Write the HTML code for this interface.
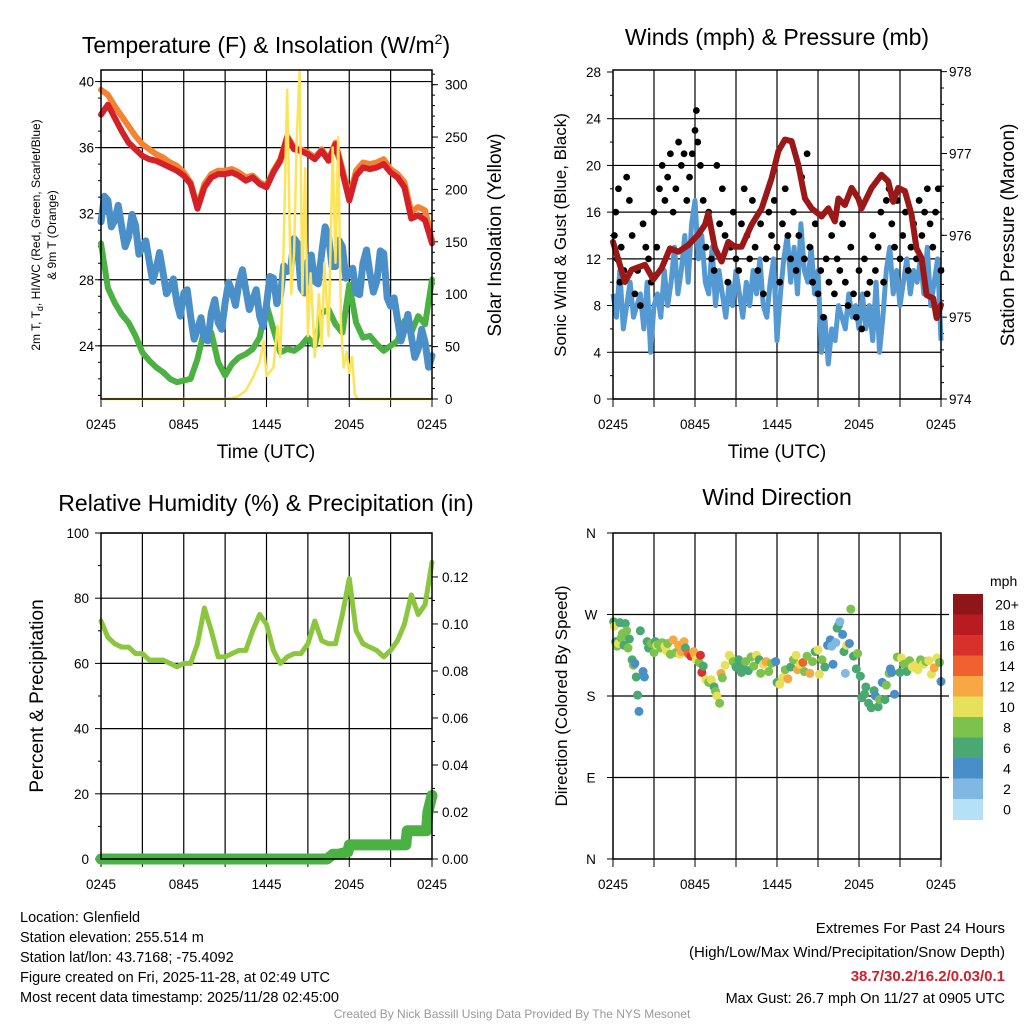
<!DOCTYPE html>
<html><head><meta charset="utf-8">
<style>
html,body{margin:0;padding:0;background:#fff;}
svg{display:block;font-family:"Liberation Sans",sans-serif;}
</style></head>
<body>
<svg id="chart" width="1024" height="1024" viewBox="0 0 1024 1024" xmlns="http://www.w3.org/2000/svg">
<rect width="1024" height="1024" fill="#fff"/>
<g id="g1"></g>
<g id="g2"></g>
<g id="g3"></g>
<g id="g4"></g>

<text x="266" y="53" font-size="23" text-anchor="middle">Temperature (F) &amp; Insolation (W/m<tspan font-size="14" dy="-9">2</tspan><tspan dy="9">)</tspan></text>
<text x="777" y="45" font-size="23" text-anchor="middle">Winds (mph) &amp; Pressure (mb)</text>
<text x="266" y="511" font-size="23" text-anchor="middle">Relative Humidity (%) &amp; Precipitation (in)</text>
<text x="777" y="505" font-size="23" text-anchor="middle">Wind Direction</text>

<text x="266" y="458" font-size="19" text-anchor="middle">Time (UTC)</text>
<text x="777" y="458" font-size="19" text-anchor="middle">Time (UTC)</text>

<g font-size="12" text-anchor="middle">
<text transform="translate(40,235) rotate(-90)">2m T, T<tspan font-size="9" dy="3">d</tspan><tspan dy="-3">, HI/WC (Red, Green, Scarlet/Blue)</tspan></text>
<text transform="translate(56,235) rotate(-90)">&amp; 9m T (Orange)</text>
</g>
<text transform="translate(501,235) rotate(-90)" font-size="19" text-anchor="middle">Solar Insolation (Yellow)</text>
<text transform="translate(566,235) rotate(-90)" font-size="17" text-anchor="middle">Sonic Wind &amp; Gust (Blue, Black)</text>
<text transform="translate(1014,235) rotate(-90)" font-size="19" text-anchor="middle">Station Pressure (Maroon)</text>
<text transform="translate(43,696) rotate(-90)" font-size="19" text-anchor="middle">Percent &amp; Precipitation</text>
<text transform="translate(567,696) rotate(-90)" font-size="17" text-anchor="middle">Direction (Colored By Speed)</text>

<g font-size="14.5">
<text x="20" y="922">Location: Glenfield</text>
<text x="20" y="942">Station elevation: 255.514 m</text>
<text x="20" y="962">Station lat/lon: 43.7168; -75.4092</text>
<text x="20" y="982">Figure created on Fri, 2025-11-28, at 02:49 UTC</text>
<text x="20" y="1002">Most recent data timestamp: 2025/11/28 02:45:00</text>
</g>
<g font-size="15" text-anchor="end">
<text x="1005" y="933">Extremes For Past 24 Hours</text>
<text x="1005" y="957">(High/Low/Max Wind/Precipitation/Snow Depth)</text>
<text x="1005" y="981" fill="#d0202a" font-weight="bold">38.7/30.2/16.2/0.03/0.1</text>
<text x="1005" y="1003" font-size="14.5">Max Gust: 26.7 mph On 11/27 at 0905 UTC</text>
</g>
<text x="512" y="1018" font-size="12" fill="#999" text-anchor="middle">Created By Nick Bassill Using Data Provided By The NYS Mesonet</text>
</svg>
<script>
// ---------- DATA ----------
const xTickLabels = ["0245","0845","1445","2045","0245"];
// Panel 1
const tempTicks = [24,28,32,36,40];
const solarTicks = [0,50,100,150,200,250,300];
const redT = [38.0,38.6,37.8,37.0,36.3,35.9,35.5,35.3,35.2,35.0,34.8,34.6,34.3,33.8,32.3,33.6,34.2,34.4,34.4,34.5,34.3,34.0,34.2,33.8,33.6,34.5,35.2,36.6,35.9,35.8,35.6,35.3,35.8,35.2,36.2,34.5,32.8,34.3,34.8,34.7,34.8,35.0,34.5,34.2,33.6,31.7,31.9,31.6,30.2];
const orangeT = [39.5,39.2,38.5,37.9,37.3,36.7,36.2,35.9,35.6,35.4,35.1,34.9,34.5,33.9,32.4,33.8,34.4,34.6,34.6,34.7,34.5,34.2,34.3,33.9,33.7,34.6,35.3,36.7,36.0,35.9,35.7,35.4,35.9,35.3,36.3,34.7,33.0,34.6,35.1,35.0,35.1,35.3,34.7,34.4,33.9,32.1,32.4,32.2,30.4];
const blueT = [31.5,32.8,31.6,31.2,30.6,31.3,30.0,29.1,28.7,28.4,27.5,26.6,27.2,25.8,25.0,24.4,26.0,25.4,26.6,27.3,27.8,27.4,26.8,25.8,26.5,28.1,27.0,28.5,30.5,27.5,29.1,27.9,29.6,30.6,28.8,30.0,28.4,27.2,29.0,28.4,27.9,29.6,26.4,25.6,25.0,24.6,23.8,24.2,23.4];
const blueWiggle = [0.9,-1.0,1.1,-0.9,1.0,-1.1,0.8,-1.0,1.1,-0.8,1.0,-1.1,0.9,-1.0,1.0,-0.9,1.1,-1.0,0.9,-1.1,1.0,-0.9,1.1,-1.0,0.9,-1.0,1.1,-0.9,1.2,-1.1,1.0,-1.0,1.1,-0.9,1.0,-1.1,0.9,-1.0,1.1,-0.9,1.0,-1.1,0.9,-1.0,1.1,-0.9,1.0,-1.1];
const greenT = [30.2,27.5,26.6,25.9,25.4,24.6,23.6,23.1,22.7,22.4,22.0,21.8,21.9,22.0,23.2,25.0,24.8,23.0,22.2,22.9,23.3,23.5,23.8,24.5,26.5,25.0,23.6,23.8,23.7,24.0,24.5,24.0,26.0,26.2,25.3,24.8,27.7,25.4,24.5,24.6,24.1,23.7,24.0,24.3,25.5,24.8,25.8,25.3,28.0];
const solarHours = [0,9.0,9.5,10,10.5,11,11.5,11.8,12,12.5,12.8,13,13.2,13.5,13.7,13.8,14,14.2,14.4,14.6,14.8,15,15.2,15.5,15.8,16,16.2,16.5,16.8,17,17.2,17.4,17.6,17.8,18,18.2,18.4,18.6,24];
const solarVals = [0,0,1,3,8,20,35,55,22,30,70,40,120,295,150,100,140,250,312,100,220,60,120,40,100,50,130,60,240,130,250,70,30,45,25,40,5,0,0];
// Panel 2
const windTicks = [0,4,8,12,16,20,24,28];
const presTicks = [974,975,976,977,978];
const windSpeed = [9,7,11,6,8,10,7,8,9, 6,10,4,8,9,7,11,8, 10,13,9,11,14,10,15,17, 12,14,10,9,13,8,11,9, 7,10,8,11,9,7,10,8, 11,9,12,8,7,10,12,5, 9,12,14,10,13,9,15,11, 10,13,9,11,4,7,3,6, 5,8,7,6,9,7,8,6, 9,6,8,5,10,4,7,11, 13,9,11,8,10,12,9,11, 10,12,9,13,8,10,12,5];
const gustHours = [0.1,0.2,0.3,0.4,0.5,0.6,0.8,1,1.2,1.4,1.6,1.8,2,2.2,2.4,2.6,2.8,3,3.2,3.4,3.6,3.8,4,4.2,4.4,4.6,4.8,5,5.2,5.4,5.6,5.8,6,6.1,6.2,6.4,6.6,6.8,7,7.2,7.4,7.6,7.8,8,8.2,8.4,8.6,8.8,9,9.2,9.4,9.6,9.8,10,10.2,10.4,10.6,10.8,11,11.2,11.4,11.6,11.8,12,12.2,12.4,12.6,12.8,13,13.2,13.4,13.6,13.8,14,14.2,14.4,14.6,14.8,15,15.2,15.4,15.6,15.8,16,16.2,16.4,16.6,16.8,17,17.2,17.4,17.6,17.8,18,18.2,18.4,18.6,18.8,19,19.2,19.4,19.6,19.8,20,20.2,20.4,20.6,20.8,21,21.2,21.4,21.6,21.8,22,22.2,22.4,22.6,22.8,23,23.2,23.4,23.6,23.8,24];
const gustVals = [14,16,12,18,10,13,11,19,17,14,9,11,8,15,13,12,10,16,13,18,20,17,19,21,16,18,22,20,21,17,19,21,23,24.7,22,20,17,13,16,12,11,20,15,18,14,10,13,16,12,11,15,18,14,12,17,13,11,15,9,12,16,14,17,13,10,15,18,14,12,16,11,14,19,12,21,13,10,15,9,11,7,12,10,14,9,12,11,15,10,8,13,9,7,11,6,12,9,10,14,11,13,16,10,17,18,15,13,17,12,14,16,11,13,15,12,17,14,16,18,15,13,16,18,11];
const presHours = [0,0.88,1.37,2.34,2.95,3.56,4.17,4.78,5.51,6.24,6.73,6.97,7.46,7.95,8.44,8.92,9.41,10.14,10.88,11.61,12.1,12.58,13.07,13.56,14.05,14.53,15.26,15.75,16.24,16.49,16.97,17.46,17.95,18.19,18.92,19.65,20.14,20.5,20.87,21.36,21.85,22.21,22.58,22.95,23.43,23.68,24];
const presVals = [975.92,975.43,975.58,975.64,975.46,975.60,975.84,975.80,975.88,976.01,976.13,976.27,975.84,975.68,975.92,975.86,975.86,976.13,976.33,976.70,977.03,977.17,977.15,976.86,976.45,976.33,976.23,976.33,976.17,976.45,976.37,976.58,976.45,976.33,976.58,976.74,976.66,976.41,976.58,976.54,976.25,975.84,975.72,975.27,975.23,974.99,975.15];
// Panel 3
const rhTicks = [0,20,40,60,80,100];
const precipTicks = [0,0.02,0.04,0.06,0.08,0.10,0.12];
const precipTickLabels = ["0.00","0.02","0.04","0.06","0.08","0.10","0.12"];
const rhVals = [73,68,66,65,65,63,63,61,61,61,60,59,60,60,66,77,70,62,62,63,64,64,70,75,72,64,60,62,63,63,66,73,67,66,66,75,86,70,66,65,64,62,64,67,72,81,75,78,91];
const precipHours = [0,16.4,16.8,17.2,17.9,18.0,22.1,22.2,23.6,23.7,24];
const precipVals = [0,0,0.002,0.002,0.003,0.006,0.006,0.012,0.012,0.020,0.027];
// Panel 4
const dirLabels = ["N","E","S","W","N"];
const dirTicks = [0,90,180,270,360];
const speedBins = ["0","2","4","6","8","10","12","14","16","18","20+"];
const binColors = ["#b5e1f6","#7fb9e3","#4a8ec8","#4aa872","#7dc24d","#e6e05a","#f7a743","#ef612f","#d8302a","#b81c22","#8e1518"];
const dirHours = [0.05,0.1,0.2,0.3,0.4,0.5,0.6,0.7,0.8,0.9,1.0,1.1,1.2,1.4,1.5,1.6,1.7,1.8,1.9,2.0,2.2,2.3,2.5,2.6,2.8,3.0,3.1,3.2,3.3,3.5,3.6,3.8,3.9,4.0,4.2,4.4,4.6,4.8,4.9,5.0,5.2,5.3,5.5,5.7,5.9,6.0,6.1,6.3,6.4,6.5,6.6,6.8,7.0,7.2,7.4,7.5,7.6,7.8,7.9,8.0,8.2,8.5,8.6,8.8,9.0,9.2,9.4,9.5,9.7,9.9,10.1,10.3,10.5,10.7,10.8,11.0,11.2,11.4,11.6,11.9,12.0,12.2,12.4,12.6,12.8,13.0,13.2,13.4,13.5,13.7,13.9,14.0,14.2,14.4,14.6,14.8,15.0,15.1,15.3,15.5,15.7,15.9,16.0,16.1,16.3,16.4,16.5,16.6,16.8,16.9,17.0,17.1,17.3,17.4,17.6,17.8,17.9,18.1,18.2,18.4,18.5,18.7,18.9,19.1,19.2,19.4,19.5,19.7,19.9,20.0,20.2,20.3,20.4,20.6,20.8,21.0,21.1,21.3,21.5,21.7,21.9,22.1,22.3,22.5,22.7,22.9,23.1,23.3,23.5,23.7,23.9,24.0];
const dirVals = [262,257,240,235,238,261,244,249,236,260,252,233,243,220,214,216,201,181,163,252,207,201,240,233,238,228,240,236,237,233,239,235,230,238,226,242,228,236,226,229,240,233,227,224,229,225,220,217,225,206,213,198,195,198,190,185,180,172,205,200,214,225,223,218,212,220,206,214,218,208,223,213,225,220,205,215,218,207,216,218,195,193,200,209,199,212,220,225,209,215,217,207,224,205,218,229,231,204,220,212,236,242,235,215,239,255,258,262,248,229,205,236,238,276,224,210,227,202,178,182,190,172,167,186,180,168,176,195,176,192,205,210,206,182,223,206,222,215,207,219,212,214,209,220,215,218,219,204,211,222,217,196];
const dirSpeeds = [6,10,7,8,10,6,8,8,7,6,8,8,7,6,8,4,7,7,4,6,4,4,6,7,8,8,7,10,8,8,8,10,10,8,8,12,8,12,10,13,12,7,14,16,12,12,10,8,16,16,7,10,8,10,6,8,10,8,12,8,10,10,10,8,6,6,7,6,8,6,8,8,10,7,8,10,12,8,8,4,7,10,10,8,12,7,8,10,12,10,14,8,8,12,8,6,10,10,8,7,4,4,3,4,2,6,6,2,4,6,2,10,4,8,6,6,8,7,6,7,6,6,7,6,4,7,8,4,6,8,8,4,4,4,8,6,10,8,6,8,10,10,10,8,10,8,10,10,12,10,8,4];

// ---------- DRAW ----------
const NS="http://www.w3.org/2000/svg";
function mk(parent,tag,attrs){const e=document.createElementNS(NS,tag);for(const k in attrs)e.setAttribute(k,attrs[k]);parent.appendChild(e);return e;}
function lin(d0,d1,r0,r1){return v=>r0+(v-d0)/(d1-d0)*(r1-r0);}
function pathD(xs,ys){return xs.map((x,i)=>(i?"L":"M")+x.toFixed(1)+","+ys[i].toFixed(1)).join("");}
const halfHours = redT.map((_,i)=>i*0.5);

function frame(g,L,R,T,B){
  const x=lin(0,24,L,R);
  for(let h=3;h<24;h+=3){const l=mk(g,"line",{x1:x(h),x2:x(h),y1:T,y2:B,stroke:"#000","stroke-width":1.2});
    
    }
  for(let i=0;i<5;i++){const t=mk(g,"text",{x:x(i*6),y:B+30,"font-size":13.5,"text-anchor":"middle"});t.textContent=xTickLabels[i];
    
    }
  for(let h=0;h<=24;h+=3){mk(g,"line",{x1:x(h),x2:x(h),y1:B,y2:B+8,stroke:"#000"});}
  return x;
}
function box(g,L,R,T,B){const r=mk(g,"rect",{x:L,y:T,width:R-L,height:B-T,fill:"none",stroke:"#000","stroke-width":1.5});
  
  }
function ylab(g,x,y,txt,anchor){const t=mk(g,"text",{x:x,y:y+5,"font-size":13.5,"text-anchor":anchor});t.textContent=txt;
  
  }

// Panel 1
(function(){
  const g=document.getElementById("g1");const L=101,R=432,T=70,B=399;
  const x=frame(g,L,R,T,B);
  const y=lin(20.78,40.7,B,T), ys=lin(0,314,B,T);
  tempTicks.forEach(v=>{mk(g,"line",{x1:L,x2:R,y1:y(v),y2:y(v),stroke:"#000","stroke-width":1.2});ylab(g,L-7,y(v),String(v),"end");mk(g,"line",{x1:L-6,x2:L,y1:y(v),y2:y(v),stroke:"#000"});});
  for(let v=21;v<=40;v++) mk(g,"line",{x1:L-3,x2:L,y1:y(v),y2:y(v),stroke:"#000"});
  solarTicks.forEach(v=>{ylab(g,R+13,ys(v),String(v),"start");mk(g,"line",{x1:R,x2:R+6,y1:ys(v),y2:ys(v),stroke:"#000"});});
  for(let v=10;v<=310;v+=10) mk(g,"line",{x1:R,x2:R+3,y1:ys(v),y2:ys(v),stroke:"#000"});
  const xs=halfHours.map(x);
  let p;
  p=mk(g,"path",{d:pathD(xs,greenT.map(y)),fill:"none",stroke:"#4bb143","stroke-width":6,"stroke-linejoin":"round","stroke-linecap":"round"});
  
  const bx=[],by=[];
  blueT.forEach((v,i)=>{bx.push(x(i*0.5));by.push(y(v));if(i<blueT.length-1){bx.push(x(i*0.5+0.25));by.push(y((v+blueT[i+1])/2+blueWiggle[i]));}});
  p=mk(g,"path",{d:pathD(bx,by),fill:"none",stroke:"#4a8fc7","stroke-width":7,"stroke-linejoin":"round","stroke-linecap":"round"});
  
  p=mk(g,"path",{d:pathD(xs,orangeT.map(y)),fill:"none",stroke:"#f58231","stroke-width":6,"stroke-linejoin":"round","stroke-linecap":"round"});
  
  p=mk(g,"path",{d:pathD(xs,redT.map(y)),fill:"none",stroke:"#d42027","stroke-width":6,"stroke-linejoin":"round","stroke-linecap":"round"});
  
  p=mk(g,"path",{d:pathD(solarHours.map(x),solarVals.map(ys)),fill:"none",stroke:"#fbe45a","stroke-width":2.5,"stroke-linejoin":"round"});
  
  box(g,L,R,T,B);
})();

// Panel 2
(function(){
  const g=document.getElementById("g2");const L=613,R=941,T=70,B=399;
  const x=frame(g,L,R,T,B);
  const y=lin(0,28.17,B,T), yp=lin(974,978.02,B,T);
  windTicks.forEach(v=>{if(v<28)mk(g,"line",{x1:L,x2:R,y1:y(v),y2:y(v),stroke:"#000","stroke-width":1.2});ylab(g,L-12,y(v),String(v),"end");mk(g,"line",{x1:L-6,x2:L,y1:y(v),y2:y(v),stroke:"#000"});});
  for(let v=2;v<28;v+=4) mk(g,"line",{x1:L-3,x2:L,y1:y(v),y2:y(v),stroke:"#000"});
  presTicks.forEach(v=>{ylab(g,R+8,yp(v),String(v),"start");mk(g,"line",{x1:R,x2:R+6,y1:yp(v),y2:yp(v),stroke:"#000"});});
  for(let v=974.2;v<978;v+=0.2) mk(g,"line",{x1:R,x2:R+3,y1:yp(v),y2:yp(v),stroke:"#000"});
  let p=mk(g,"path",{d:pathD(windSpeed.map((_,i)=>x(i*0.25)),windSpeed.map(y)),fill:"none",stroke:"#5599d2","stroke-width":5,"stroke-linejoin":"round"});
  
  gustVals.forEach((v,i)=>{const c=mk(g,"circle",{cx:x(gustHours[i]),cy:y(v),r:3.4,fill:"#000"});
    
    });
  p=mk(g,"path",{d:pathD(presHours.map(x),presVals.map(yp)),fill:"none",stroke:"#9a1818","stroke-width":6,"stroke-linejoin":"round","stroke-linecap":"round"});
  
  box(g,L,R,T,B);
})();

// Panel 3
(function(){
  const g=document.getElementById("g3");const L=101,R=432,T=533,B=859;
  const x=frame(g,L,R,T,B);
  const y=lin(0,100,B,T), yq=lin(0,0.1387,B,T);
  rhTicks.forEach(v=>{mk(g,"line",{x1:L,x2:R,y1:y(v),y2:y(v),stroke:"#000","stroke-width":1.2});ylab(g,L-12,y(v),String(v),"end");mk(g,"line",{x1:L-6,x2:L,y1:y(v),y2:y(v),stroke:"#000"});});
  for(let v=10;v<100;v+=20) mk(g,"line",{x1:L-3,x2:L,y1:y(v),y2:y(v),stroke:"#000"});
  precipTicks.forEach((v,i)=>{ylab(g,R+10,yq(v),precipTickLabels[i],"start");mk(g,"line",{x1:R,x2:R+6,y1:yq(v),y2:yq(v),stroke:"#000"});});
  for(let v=0.01;v<0.13;v+=0.02) mk(g,"line",{x1:R,x2:R+3,y1:yq(v),y2:yq(v),stroke:"#000"});
  let p=mk(g,"path",{d:pathD(halfHours.map(x),rhVals.map(y)),fill:"none",stroke:"#8cc63f","stroke-width":5,"stroke-linejoin":"round","stroke-linecap":"round"});
  
  p=mk(g,"path",{d:pathD(precipHours.map(x),precipVals.map(yq)),fill:"none",stroke:"#4bb143","stroke-width":11,"stroke-linejoin":"round","stroke-linecap":"round"});
  
  box(g,L,R,T,B);
})();

// Panel 4
(function(){
  const g=document.getElementById("g4");const L=613,R=941,T=533,B=859;
  const x=frame(g,L,R,T,B);
  const y=lin(0,360,B,T);
  dirTicks.forEach((v,i)=>{if(i>0&&i<4)mk(g,"line",{x1:L,x2:R+8,y1:y(v),y2:y(v),stroke:"#000","stroke-width":1.2});
    ylab(g,L-22,y(v),dirLabels[i],"middle");mk(g,"line",{x1:L-6,x2:L,y1:y(v),y2:y(v),stroke:"#000"});});
  dirVals.forEach((v,i)=>{const b=Math.min(10,Math.floor(dirSpeeds[i]/2));
    const c=mk(g,"circle",{cx:x(dirHours[i]),cy:y(v),r:4.5,fill:binColors[b]});
    
    });
  box(g,L,R,T,B);
  const cb=mk(g,"g",{});
  
  
  const top=594,h=20.5;
  const ut=mk(cb,"text",{x:990,y:586,"font-size":14,"text-anchor":"start"});ut.textContent="mph";
  for(let i=0;i<11;i++){const bi=10-i;
    mk(cb,"rect",{x:953,y:top+i*h,width:30,height:h+0.5,fill:binColors[bi]});
    const t=mk(cb,"text",{x:1007,y:top+i*h+h/2+5,"font-size":14,"text-anchor":"middle"});t.textContent=speedBins[bi];
    
    }
})();
</script>
</body></html>
